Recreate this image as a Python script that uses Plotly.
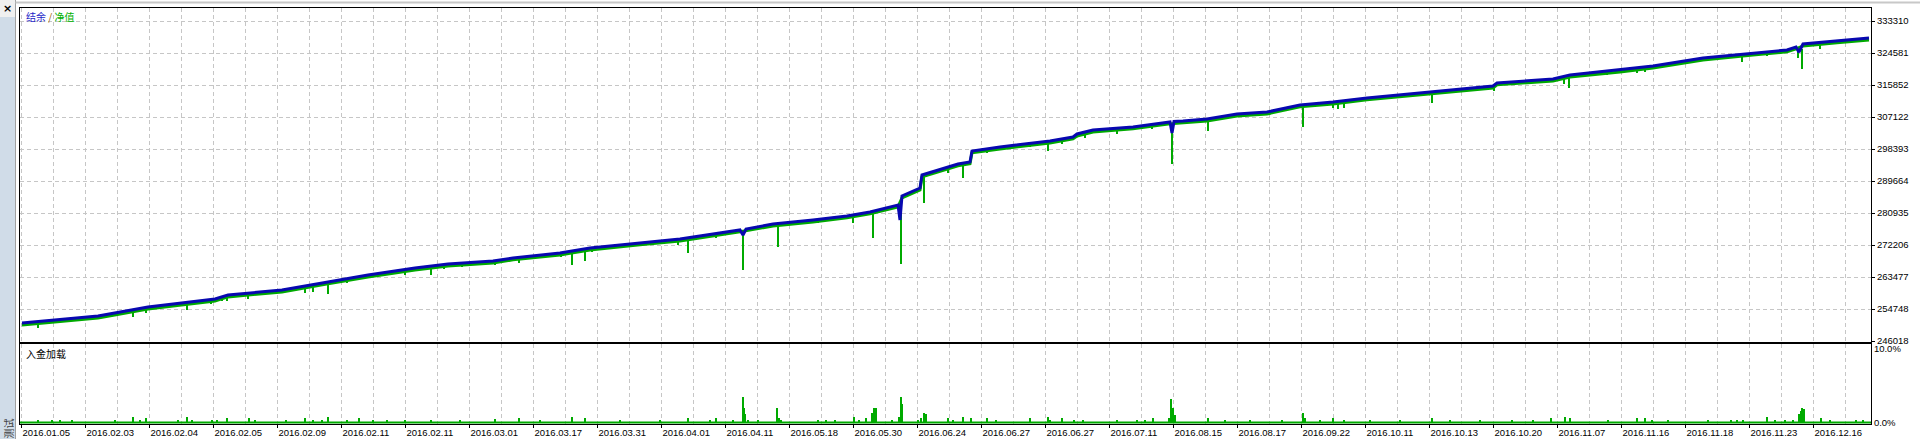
import numpy as np
import plotly.graph_objects as go

# ---------------- data ----------------
balance_idx = [2, 28, 78, 128, 172, 195, 208, 262, 308, 348, 395, 428, 473, 493, 540, 570, 620, 660,
               720, 723, 726, 753, 793, 827, 850, 878, 880, 882, 900, 902, 938, 950, 952, 980, 1030,
               1053, 1057, 1073, 1113, 1150, 1152, 1154, 1163, 1187, 1217, 1247, 1280, 1313, 1347,
               1380, 1408, 1433, 1473, 1477, 1533, 1550, 1600, 1633, 1683, 1733, 1767, 1776, 1779,
               1783, 1817, 1849]
balance_val = [250928, 251556, 252838, 255293, 256657, 257475, 258566, 259930, 262113, 264022, 265932,
               267023, 267841, 268660, 270024, 271387, 272751, 273843, 276298, 274934, 276570, 277934,
               279026, 280117, 281208, 283117, 279026, 285573, 287755, 291301, 294302, 294847, 297848,
               298939, 300576, 301667, 302486, 303577, 304395, 305759, 302758, 305900, 306032, 306577,
               307941, 308487, 310396, 311215, 312306, 313124, 313943, 314488, 315579, 316398, 317489,
               318580, 319944, 321035, 323218, 324582, 325400, 326218, 324800, 327037, 327855, 328673]

equity_idx = [2, 28, 78, 128, 172, 195, 208, 262, 308, 348, 395, 428, 473, 493, 540, 570, 620, 660,
              720, 753, 793, 827, 850, 878, 882, 900, 902, 938, 950, 952, 980, 1030, 1053, 1057, 1073,
              1113, 1150, 1163, 1187, 1217, 1247, 1280, 1313, 1347, 1380, 1408, 1433, 1473, 1477, 1533,
              1550, 1600, 1633, 1683, 1733, 1767, 1776, 1783, 1817, 1849]
equity_val = [250400, 251050, 252300, 254750, 256150, 256950, 258050, 259400, 261600, 263500, 265400,
              266500, 267300, 268150, 269500, 270850, 272250, 273300, 275800, 277400, 278500, 279600,
              280700, 282600, 285050, 287250, 290800, 293800, 294350, 297350, 298400, 300050, 301150,
              301950, 303050, 303900, 305250, 305500, 306050, 307400, 307950, 309900, 310700, 311800,
              312600, 313400, 313950, 315050, 315900, 316950, 318050, 319400, 320500, 322700, 324050,
              324900, 325700, 326500, 327350, 328150]

# equity drawdown spikes: position, lowest equity, equity level before the spike
dip_idx = [18, 113, 126, 167, 191, 202, 207, 228, 285, 293, 308, 327, 385, 411, 424, 442, 475, 499,
           541, 552, 565, 572, 658, 668, 696, 723, 758, 798, 833, 853, 881, 904, 928, 943, 967, 1010,
           1028, 1042, 1065, 1097, 1132, 1152, 1188, 1283, 1313, 1318, 1324, 1412, 1474, 1544, 1549,
           1587, 1617, 1625, 1722, 1747, 1778, 1782, 1800]
dip_low = [249564, 252565, 253656, 254474, 256111, 257011, 257011, 257475, 259112, 259385, 258839,
           261922, 264022, 264022, 265659, 266286, 266750, 267296, 269018, 266750, 267841, 270296,
           272206, 270024, 274115, 265386, 271660, 278207, 278207, 274115, 267023, 283663, 291847,
           290483, 297303, 298939, 297848, 299757, 301394, 302486, 303850, 294302, 303304, 304395,
           309578, 309305, 309666, 310942, 314216, 316125, 315034, 318580, 319042, 319315, 322126,
           323763, 323218, 320217, 325591]
dip_top = [250900, 254000, 254700, 256000, 256900, 257500, 257900, 258400, 260300, 260700, 261600,
           262500, 265100, 265800, 266400, 266800, 267300, 268300, 269500, 269800, 270600, 270900,
           273200, 273500, 274600, 275800, 277500, 278700, 279700, 280800, 282800, 290900, 293000,
           294400, 298100, 299700, 300100, 300500, 302200, 303600, 304600, 305300, 306100, 309900,
           310700, 310800, 311000, 313450, 315100, 317900, 318050, 319100, 320100, 320400, 323800,
           324300, 325600, 325700, 326700]

# deposit load (%)
load_idx = [18, 32, 40, 52, 95, 113, 120, 126, 158, 167, 172, 192, 197, 207, 229, 235, 266, 285, 293,
            302, 308, 327, 339, 353, 367, 385, 411, 440, 475, 499, 520, 552, 565, 600, 640, 668, 690,
            696, 713, 723, 724, 725, 728, 738, 757, 759, 761, 798, 806, 815, 834, 839, 846, 852, 854,
            856, 872, 879, 881, 882, 898, 901, 904, 906, 928, 933, 943, 951, 967, 976, 1010, 1028,
            1030, 1042, 1054, 1063, 1097, 1117, 1125, 1133, 1149, 1151, 1153, 1155, 1188, 1205, 1230,
            1262, 1283, 1285, 1300, 1313, 1324, 1350, 1380, 1412, 1430, 1460, 1492, 1513, 1531, 1545,
            1550, 1588, 1617, 1625, 1632, 1648, 1688, 1711, 1717, 1723, 1747, 1755, 1765, 1773, 1779,
            1781, 1782, 1784, 1801, 1810, 1836, 1843]
load_pct = [0.4, 0.3, 0.3, 0.3, 0.3, 0.8, 0.3, 0.55, 0.3, 0.8, 0.4, 0.3, 0.3, 0.55, 0.55, 0.3, 0.3,
            0.55, 0.4, 0.3, 0.7, 0.3, 0.55, 0.3, 0.3, 0.3, 0.4, 0.3, 0.5, 0.6, 0.3, 0.8, 0.6, 0.3, 0.3,
            0.6, 0.3, 0.55, 0.3, 3.5, 2.0, 1.2, 0.3, 0.3, 2.0, 0.55, 0.4, 0.3, 0.3, 0.3, 0.8, 0.4, 0.55,
            1.35, 2.0, 1.9, 0.3, 0.8, 3.4, 2.5, 0.3, 0.55, 1.35, 1.2, 0.55, 0.3, 0.8, 0.55, 0.55, 0.4,
            0.55, 0.8, 0.4, 0.55, 0.3, 0.3, 0.4, 0.3, 0.3, 0.55, 0.6, 3.2, 2.0, 1.0, 0.6, 0.3, 0.3, 0.3,
            1.3, 0.6, 0.4, 0.55, 0.4, 0.3, 0.3, 0.6, 0.3, 0.3, 0.3, 0.3, 0.55, 0.8, 0.6, 0.3, 0.55,
            0.55, 0.3, 0.3, 0.3, 0.3, 0.3, 0.4, 0.7, 0.3, 0.3, 0.3, 1.1, 1.5, 1.9, 1.8, 0.55, 0.3, 0.3,
            0.3]

y_ticks = [333310, 324581, 315852, 307122, 298393, 289664, 280935, 272206, 263477, 254748, 246018]
date_labels = ["2016.01.05", "2016.02.03", "2016.02.04", "2016.02.05", "2016.02.09", "2016.02.11",
               "2016.02.11", "2016.03.01", "2016.03.17", "2016.03.31", "2016.04.01", "2016.04.11",
               "2016.05.18", "2016.05.30", "2016.06.24", "2016.06.27", "2016.06.27", "2016.07.11",
               "2016.08.15", "2016.08.17", "2016.09.22", "2016.10.11", "2016.10.13", "2016.10.20",
               "2016.11.07", "2016.11.16", "2016.11.18", "2016.11.23", "2016.12.16"]
load_ticks = [0, 10]
load_ticktext = ["0.0%", "10.0%"]

# ---------------- layout geometry ----------------
W, H = 1920, 439
L, R, T, B = 20, 49, 8, 15
PW, PH = W - L - R, H - T - B
X_MAX = PW  # one trade step per pixel


def paper_x(p):
    return (p - L) / PW


def paper_y(p):
    return (H - B - p) / PH


label_pos = [1.5 + 64 * k for k in range(len(date_labels))]
minor_pos = [p + 32 for p in label_pos]

BLUE = "#0808B0"
GREEN = "#00AA00"
GRID = "#C6C6C6"
FONT = "Liberation Sans"

fig = go.Figure()

fig.add_trace(go.Scatter(x=equity_idx, y=equity_val, mode="lines",
                         line=dict(color=GREEN, width=3), xaxis="x", yaxis="y"))
fig.add_trace(go.Bar(x=dip_idx, y=list(np.array(dip_top) - np.array(dip_low)), base=dip_low,
                     width=2.2, marker=dict(color=GREEN, line=dict(width=0)), xaxis="x", yaxis="y"))
fig.add_trace(go.Scatter(x=balance_idx, y=balance_val, mode="lines",
                         line=dict(color=BLUE, width=3), xaxis="x", yaxis="y"))

fig.add_trace(go.Bar(x=load_idx, y=load_pct, width=1.8,
                     marker=dict(color=GREEN, line=dict(width=0)), xaxis="x2", yaxis="y2"))
fig.add_trace(go.Scatter(x=[0, X_MAX], y=[0, 0], mode="lines",
                         line=dict(color=GREEN, width=2), xaxis="x2", yaxis="y2"))

grid_common = dict(showgrid=True, gridcolor=GRID, gridwidth=1, griddash="4px,3px")
minor_common = dict(tickvals=minor_pos, showgrid=True, gridcolor=GRID, gridwidth=1,
                    griddash="4px,3px", ticks="")

fig.update_layout(
    width=W, height=H,
    margin=dict(l=L, r=R, t=T, b=B, pad=0, autoexpand=False),
    paper_bgcolor="white", plot_bgcolor="white",
    showlegend=False, bargap=0, hovermode=False,
    font=dict(family=FONT, size=9.5, color="black"),
    xaxis=dict(domain=[0, 1], range=[0, X_MAX], tickmode="array", tickvals=label_pos,
               showticklabels=False, ticks="", showline=True, mirror=True, linecolor="black",
               linewidth=1, zeroline=False, anchor="y", minor=minor_common, **grid_common),
    yaxis=dict(domain=[paper_y(342), 1], range=[245745, 336857], side="right",
               tickmode="array", tickvals=y_ticks, ticktext=[str(v) for v in y_ticks],
               ticks="outside", ticklen=3, tickcolor="black", showline=True, mirror=True,
               linecolor="black", linewidth=1, zeroline=False, anchor="x", automargin=False,
               **grid_common),
    xaxis2=dict(domain=[0, 1], range=[0, X_MAX], tickmode="array", tickvals=label_pos,
                ticktext=date_labels, ticks="outside", ticklen=3, tickcolor="black",
                ticklabelposition="outside right", showline=True, mirror=True,
                linecolor="black", linewidth=1, zeroline=False, anchor="y2", automargin=False,
                minor=minor_common, **grid_common),
    yaxis2=dict(domain=[0, paper_y(344)], range=[-0.2, 10.6], side="right",
                tickmode="array", tickvals=load_ticks, ticktext=load_ticktext,
                ticks="", showgrid=False, showline=True, mirror=True, linecolor="black",
                linewidth=1, zeroline=False, anchor="x2", automargin=False),
)

# window chrome
fig.add_shape(type="rect", xref="paper", yref="paper", x0=paper_x(0), x1=paper_x(15),
              y0=paper_y(H), y1=paper_y(17), fillcolor="#D0DCE8", line=dict(width=0), layer="below")
fig.add_shape(type="rect", xref="paper", yref="paper", x0=paper_x(0), x1=paper_x(15),
              y0=paper_y(17), y1=paper_y(0), fillcolor="#F0F0F0", line=dict(width=0), layer="below")
fig.add_shape(type="line", xref="paper", yref="paper", x0=paper_x(15.5), x1=paper_x(15.5),
              y0=paper_y(H), y1=paper_y(0), line=dict(color="#A0A0A0", width=1))
fig.add_shape(type="line", xref="paper", yref="paper", x0=paper_x(15.5), x1=paper_x(W),
              y0=paper_y(2.5), y1=paper_y(2.5), line=dict(color="#C8C8C8", width=2))

fig.add_annotation(xref="paper", yref="paper", x=paper_x(24), y=paper_y(16), xanchor="left",
                   yanchor="middle", showarrow=False,
                   text='<span style="color:#1E1EC8">结余</span>'
                        '<span style="color:#A06000"> / </span>'
                        '<span style="color:#00B000">净值</span>',
                   font=dict(family="Noto Sans CJK SC", size=10))
fig.add_annotation(xref="paper", yref="paper", x=paper_x(24), y=paper_y(353), xanchor="left",
                   yanchor="middle", showarrow=False, text="入金加载",
                   font=dict(family="Noto Sans CJK SC", size=10, color="black"))
fig.add_annotation(xref="paper", yref="paper", x=paper_x(7.5), y=paper_y(429), xanchor="center",
                   yanchor="middle", showarrow=False, text="测试", textangle=-90,
                   font=dict(family="Noto Sans CJK SC", size=10, color="#404040"))
fig.add_annotation(xref="paper", yref="paper", x=paper_x(7), y=paper_y(8), xanchor="center",
                   yanchor="middle", showarrow=False, text="<b>×</b>",
                   font=dict(family="DejaVu Sans", size=11, color="black"))

fig.write_html("out.html", config={"displayModeBar": False, "staticPlot": True},
               post_script="document.body.style.margin='0';document.body.style.overflow='hidden';")
